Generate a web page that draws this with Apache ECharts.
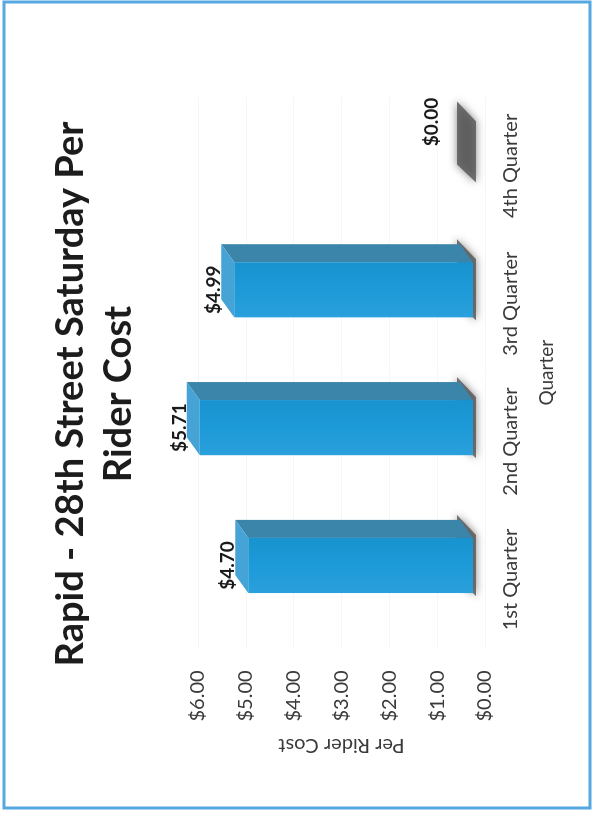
<!DOCTYPE html>
<html>
<head>
<meta charset="utf-8">
<script src="https://cdn.jsdelivr.net/npm/echarts@6/dist/echarts.min.js"></script>
<style>
  html, body { margin: 0; padding: 0; background: #fff; overflow: hidden; }
  #page { position: absolute; left: 0; top: 0; width: 597px; height: 818px; overflow: hidden; background: #fff; }
  /* the chart is laid out landscape and turned a quarter turn counter-clockwise */
  #chart { position: absolute; left: 0; top: 0; width: 818px; height: 597px;
           transform-origin: 0 0; transform: translate(0, 818px) rotate(-90deg); }
</style>
</head>
<body>
<div id="page"><div id="chart"></div></div>
<script>
// ---- data ----
const chartTitle = 'Rapid - 28th Street Saturday Per\nRider Cost';
const quarters = ['1st Quarter', '2nd Quarter', '3rd Quarter', '4th Quarter'];
const perRiderCost = [4.70, 5.71, 4.99, 0.00];
const costTicks = [0, 1, 2, 3, 4, 5, 6];
const valueAxisName = 'Per Rider Cost';
const categoryAxisName = 'Quarter';

// ---- 3D column projection (pixels) ----
const FRONT_DX = 14, FRONT_DY = -12;   // front faces sit ahead of the axis plane
const DEPTH_DX = 18, DEPTH_DY = -13;   // receding depth of each column
const BAR_FRACTION = 0.4;

const FONT = 'Lato, "Open Sans", "Liberation Sans", sans-serif';

function money(v) { return '$' + Number(v).toFixed(2); }

function renderColumn(params, api) {
  const idx = api.value(0);
  const val = api.value(1);
  const base = api.coord([idx, 0]);
  const top = api.coord([idx, val]);
  const w = api.size([1, 0])[0] * BAR_FRACTION;
  const uL = base[0] + FRONT_DX - w / 2;
  const uR = uL + w;
  const v0 = base[1] + FRONT_DY;
  const vt = top[1] + FRONT_DY;
  const flat = v0 - vt < 0.5;
  const children = [];

  // soft floor shadow under the column footprint
  children.push({
    type: 'polygon',
    shape: { points: [
      [uL - 3, v0 + 3], [uR + 3, v0 + 3],
      [uR + DEPTH_DX + 5, v0 + DEPTH_DY - 3], [uL + DEPTH_DX - 3, v0 + DEPTH_DY - 3]
    ] },
    style: { fill: 'rgba(85,85,85,0.8)', shadowBlur: 9, shadowColor: 'rgba(0,0,0,0.6)' }
  });

  if (!flat) {
    // side face
    children.push({
      type: 'polygon',
      shape: { points: [[uR, vt], [uR + DEPTH_DX, vt + DEPTH_DY], [uR + DEPTH_DX, v0 + DEPTH_DY], [uR, v0]] },
      style: { fill: '#3b84aa' }
    });
    // top face
    children.push({
      type: 'polygon',
      shape: { points: [[uL, vt], [uR, vt], [uR + DEPTH_DX, vt + DEPTH_DY], [uL + DEPTH_DX, vt + DEPTH_DY]] },
      style: { fill: '#45a3d6' }
    });
    // front face
    children.push({
      type: 'rect',
      shape: { x: uL, y: vt, width: w, height: v0 - vt },
      style: {
        fill: new echarts.graphic.LinearGradient(0, 0, 1, 0, [
          { offset: 0, color: '#2aa0dc' },
          { offset: 0.5, color: '#1d9ad8' },
          { offset: 1, color: '#1893d0' }
        ])
      }
    });
  }

  // value label; a flat column carries its label beyond the far edge of the floor
  const lx = (uL + uR) / 2 + (flat ? DEPTH_DX + 12 : 0);
  const ly = vt - 20 + (flat ? DEPTH_DY - 8 : 0);
  children.push({
    type: 'text',
    style: {
      text: money(val),
      x: lx, y: ly,
      align: 'center', verticalAlign: 'middle',
      font: 'bold 19px ' + FONT, fill: '#1a1a1a'
    }
  });

  return { type: 'group', children };
}

const chart = echarts.init(document.getElementById('chart'), null, { renderer: 'canvas', width: 818, height: 597 });

chart.setOption({
  backgroundColor: '#ffffff',
  animation: false,
  title: {
    text: chartTitle,
    left: 419, top: 42, textAlign: 'center',
    textStyle: { fontFamily: FONT, fontWeight: 'bold', fontSize: 38, lineHeight: 48, color: '#1c1c1c' }
  },
  grid: { left: 169.6, right: 97, top: 198, bottom: 112, containLabel: false },
  xAxis: {
    type: 'category',
    data: quarters,
    name: categoryAxisName,
    nameLocation: 'middle',
    nameGap: 52,
    nameTextStyle: { fontFamily: FONT, fontSize: 19, color: '#3a3a3a' },
    axisLine: { show: false },
    axisTick: { show: false },
    axisLabel: { interval: 0, margin: 16, fontFamily: FONT, fontSize: 20, color: '#3a3a3a' }
  },
  yAxis: {
    type: 'value',
    min: costTicks[0],
    max: costTicks[costTicks.length - 1],
    interval: costTicks[1] - costTicks[0],
    name: valueAxisName,
    nameLocation: 'middle',
    nameRotate: 90,
    nameGap: 87,
    nameTextStyle: { fontFamily: FONT, fontSize: 20, color: '#3a3a3a' },
    axisLine: { show: false },
    axisTick: { show: false },
    splitLine: { lineStyle: { color: '#f6f6f6', width: 1 } },
    axisLabel: { margin: 22, fontFamily: FONT, fontSize: 20, color: '#3a3a3a', formatter: money }
  },
  graphic: [{
    type: 'rect',
    shape: { x: 10, y: 4, width: 806, height: 586 },
    style: { fill: 'none', stroke: '#55a8e2', lineWidth: 3 },
    silent: true
  }],
  series: [{
    type: 'custom',
    renderItem: renderColumn,
    encode: { x: 0, y: 1 },
    data: perRiderCost.map((v, i) => [i, v]),
    clip: false
  }]
});
</script>
</body>
</html>
